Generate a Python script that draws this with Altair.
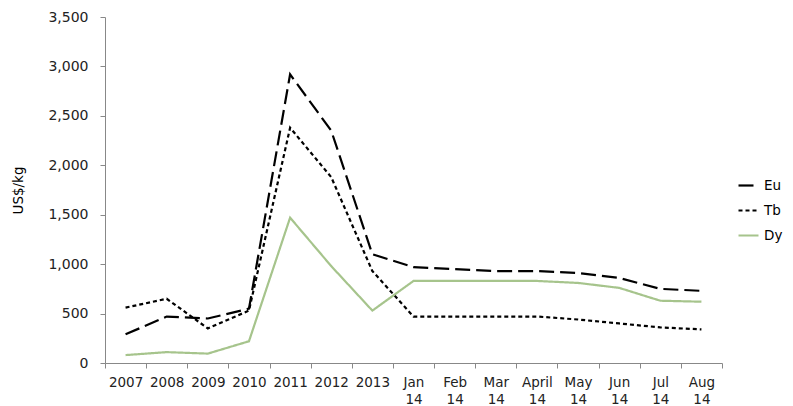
import altair as alt
import pandas as pd

periods = ["2007", "2008", "2009", "2010", "2011", "2012", "2013",
           "Jan 14", "Feb 14", "Mar 14", "April 14", "May 14", "Jun 14", "Jul 14", "Aug 14"]
series = ["Eu", "Tb", "Dy"]
eu = [290, 470, 450, 550, 2920, 2350, 1100, 970, 950, 930, 930, 910, 860, 750, 730]
tb = [560, 650, 350, 530, 2380, 1880, 930, 470, 470, 470, 470, 440, 400, 360, 340]
dy = [80, 110, 95, 220, 1470, 980, 530, 830, 830, 830, 830, 810, 760, 630, 620]

rows = []
for name, vals in zip(series, [eu, tb, dy]):
    for p, v in zip(periods, vals):
        rows.append({"period": p, "series": name, "value": v})
df = pd.DataFrame(rows)

FONT = "DejaVu Sans"

legend = alt.Legend(title=None, orient="none", legendX=632, legendY=157,
                    symbolType="stroke", symbolSize=400,
                    symbolStrokeWidth=2.2, labelFont=FONT,
                    labelFontSize=13.5, labelColor="#000",
                    rowPadding=7)

chart = alt.Chart(df).mark_line(strokeWidth=2.2).encode(
    x=alt.X("period:N", sort=periods, bandPosition=0.5,
            scale=alt.Scale(type="band", paddingInner=0, paddingOuter=0),
            axis=alt.Axis(title=None, labelAngle=0, tickBand="extent",
                          labelExpr="split(datum.label, ' ')",
                          labelFont=FONT, labelFontSize=13.5, labelColor="#222",
                          labelLineHeight=17, labelOverlap=False, labelBound=False,
                          domainColor="#888", tickColor="#888", tickSize=5,
                          labelPadding=7, grid=False)),
    y=alt.Y("value:Q", scale=alt.Scale(domain=[0, 3500]),
            axis=alt.Axis(title="US$/kg", values=list(range(0, 3501, 500)), format=",d",
                          labelFont=FONT, labelFontSize=14, labelColor="#222",
                          labelPadding=12,
                          titleFont=FONT, titleFontSize=13.5, titleFontWeight="normal",
                          titleColor="#000", titlePadding=22,
                          domainColor="#888", tickColor="#888", tickSize=5, grid=False)),
    color=alt.Color("series:N",
                    scale=alt.Scale(domain=series, range=["#000000", "#000000", "#a6c48c"]),
                    legend=legend),
    strokeDash=alt.StrokeDash("series:N",
                              scale=alt.Scale(domain=series, range=[[15, 6], [4, 3], [1, 0]]),
                              legend=legend),
).properties(
    width=617, height=346,
    autosize=alt.AutoSizeParams(type="none"),
    padding={"left": 97, "top": 9, "right": 63, "bottom": 43},
).configure_view(stroke=None)

chart.save("out.html", embed_options={"renderer": "svg", "actions": False})
